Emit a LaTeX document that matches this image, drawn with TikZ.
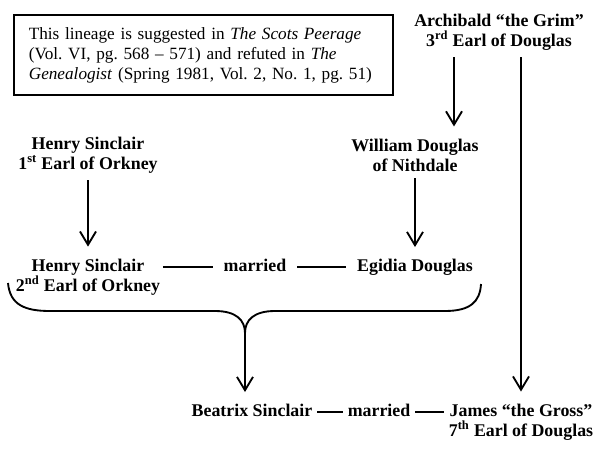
\documentclass[tikz,border=0pt]{standalone}
\usepackage{fontspec}
\setmainfont{Liberation Serif}
\usepackage{tikz}
\usetikzlibrary{arrows.meta,calc}

\begin{document}
\begin{tikzpicture}[x=0.75pt, y=-0.75pt,
    note/.style={rectangle, draw, line width=1.3pt, text width=262pt,
                 inner xsep=11pt, minimum height=60pt, align=left,
                 font=\fontsize{12.9}{15}\selectfont\frenchspacing},
    person/.style={align=center, inner sep=2pt,
                   font=\fontsize{13.4}{15}\selectfont\bfseries},
    spouse/.style={person, inner xsep=8pt, text height=9pt, text depth=2.5pt},
    wed/.style={person, inner xsep=3.5pt},
    arr/.style={-{Straight Barb[length=10pt, width=12pt, line width=1.4pt]},
                line width=1.4pt, shorten <=3pt, shorten >=7pt},
    link/.style={line width=1.4pt}]

    \useasboundingbox (0,0) rectangle (603,456);

    % Source note
    \node[note] (src) at (203.5,55) {This lineage is suggested in \textit{The Scots Peerage}\\
        (Vol. VI, pg. 568 -- 571) and refuted in \textit{The}\\
        \textit{Genealogist} (Spring 1981, Vol. 2, No. 1, pg. 51)};

    % Parents
    \node[person] (archibald) at (499,32)  {Archibald ``the Grim''\\
                                            3\textsuperscript{rd} Earl of Douglas};
    \node[person] (henry1)    at (88,155)  {Henry Sinclair\\
                                            1\textsuperscript{st} Earl of Orkney};
    \node[person] (william)   at (415,155) {William Douglas\\
                                            of Nithdale};

    % First marriage
    \node[person] (henry2)    at (88,277)  {Henry Sinclair\\
                                            2\textsuperscript{nd} Earl of Orkney};
    \node[spouse] (married1)  at (255,267) {married};
    \node[spouse] (egidia)    at (415,267) {Egidia Douglas};

    % Second marriage
    \node[wed, text height=9pt, text depth=2.5pt] (beatrix)  at (252,412) {Beatrix Sinclair};
    \node[wed, text height=9pt, text depth=2.5pt] (married2) at (379,412) {married};
    \node[wed] (james)    at (521,422) {James ``the Gross''\\
                                        7\textsuperscript{th} Earl of Douglas};

    % Descent arrows
    \draw[arr] ([xshift=-45pt*0.75]archibald.south)
               -- ([xshift=-45pt*0.75]archibald.south |- william.north);
    \draw[arr] (archibald.south -| james.north) -- (james.north);
    \draw[arr] (henry1) -- (henry1 |- henry2.north);
    \draw[arr] (william) -- (egidia);

    % Marriage lines
    \draw[link] (henry2.east |- married1.west) -- (married1.west);
    \draw[link] (married1.east) -- (egidia.west);
    \draw[link] (beatrix.east) -- (married2.west);
    \draw[link] (married2.east) -- (james.west |- married2.east);

    % Brace over the first marriage
    \coordinate (tip) at (245,333);
    \draw[link] (8,283) .. controls (10,305) and (25,311) .. (50,311)
        -- (215,311) .. controls (236,311) and (245,320) .. (tip)
        .. controls (245,320) and (254,311) .. (275,311)
        -- (445,311) .. controls (470,311) and (480,302) .. (481,284);
    \draw[arr, shorten <=0pt] (tip) -- (tip |- beatrix.north);
\end{tikzpicture}
\end{document}
